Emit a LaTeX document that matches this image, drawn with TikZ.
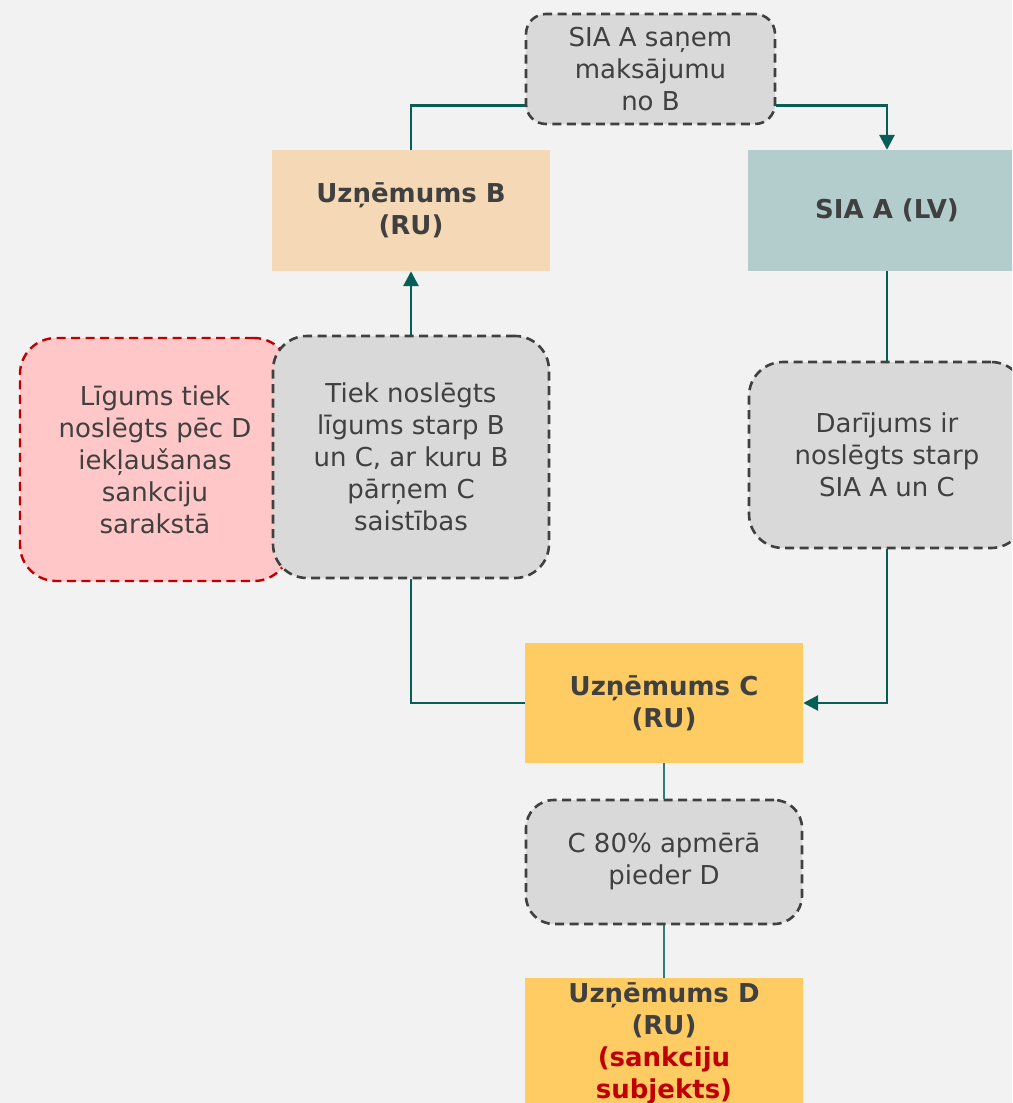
\documentclass[tikz,border=0pt]{standalone}
\usepackage{fontspec}
\setmainfont{DejaVu Sans}
\usetikzlibrary{arrows.meta}
\definecolor{bgc}{HTML}{F2F2F2}
\definecolor{txt}{HTML}{404040}
\definecolor{grayfill}{HTML}{D9D9D9}
\definecolor{dashc}{HTML}{404040}
\definecolor{pinkfill}{HTML}{FFC7C7}
\definecolor{redc}{HTML}{C00000}
\definecolor{peach}{HTML}{F5D9B6}
\definecolor{teal}{HTML}{B3CCCC}
\definecolor{gold}{HTML}{FFCC63}
\definecolor{connc}{HTML}{075E54}
\definecolor{thinc}{HTML}{2E7B7B}
\tikzset{
  base/.style={text=txt, align=center, inner sep=0pt, font=\fontsize{26}{32}\selectfont},
  note/.style={base, fill=grayfill, draw=dashc, line width=2.6pt, dash pattern=on 9pt off 5.5pt, rounded corners=34pt},
  rednote/.style={base, fill=pinkfill, draw=redc, line width=2.4pt, dash pattern=on 9pt off 5.5pt, rounded corners=36pt},
  entity/.style={base, font=\fontsize{26}{32}\selectfont\bfseries},
  conn/.style={draw=connc, line width=2.8pt},
  arr/.style={-{Triangle[length=15pt,width=15pt]}},
  thinconn/.style={draw=thinc, line width=1.4pt},
}
\begin{document}
\begin{tikzpicture}[x=1pt,y=-1pt]
\fill[bgc] (0,0) rectangle (1012,1103);
\useasboundingbox (0,0) rectangle (1012,1103);
\clip (0,0) rectangle (1012,1103);

% boxes
\node[note, rounded corners=20pt, minimum width=249pt, minimum height=110pt] (top) at (650.5,69) {SIA A saņem\\maksājumu\\no B};
\node[entity, fill=peach, minimum width=278pt, minimum height=121pt] (B) at (411,210.5) {Uzņēmums B\\(RU)};
\node[entity, fill=teal, minimum width=278pt, minimum height=121pt] (A) at (887,210.5) {SIA A (LV)};
\node[rednote, minimum width=270pt, minimum height=243pt] (P) at (155,459.5) {Līgums tiek\\noslēgts pēc D\\iekļaušanas\\sankciju\\sarakstā};
\node[note, minimum width=276pt, minimum height=242pt] (G) at (411,457) {Tiek noslēgts\\līgums starp B\\un C, ar kuru B\\pārņem C\\saistības};
\node[note, minimum width=276pt, minimum height=186pt] (R) at (887,455) {Darījums ir\\noslēgts starp\\SIA A un C};
\node[entity, fill=gold, minimum width=278pt, minimum height=120pt] (C) at (664,703) {Uzņēmums C\\(RU)};
\node[note, rounded corners=28pt, minimum width=276pt, minimum height=124pt] (C80) at (664,862) {C 80\% apmērā\\pieder D};
\node[entity, fill=gold, minimum width=278pt, minimum height=130pt] (D) at (664,1043) {Uzņēmums D\\(RU)\\\textcolor{redc}{(sankciju}\\\textcolor{redc}{subjekts)}};

% connectors
\draw[conn] ([yshift=20pt]top.south west) -| (B.north);
\draw[conn,arr] ([yshift=20pt]top.south east) -| (A.north);
\draw[conn] (A.south) -- (R.north);
\draw[conn,arr] (R.south) |- (C.east);
\draw[conn] (C.west) -| (G.south);
\draw[conn,arr] (G.north) -- (B.south);
\draw[thinconn] (C.south) -- (C80.north);
\draw[thinconn] (C80.south) -- (D.north);
\end{tikzpicture}
\end{document}
